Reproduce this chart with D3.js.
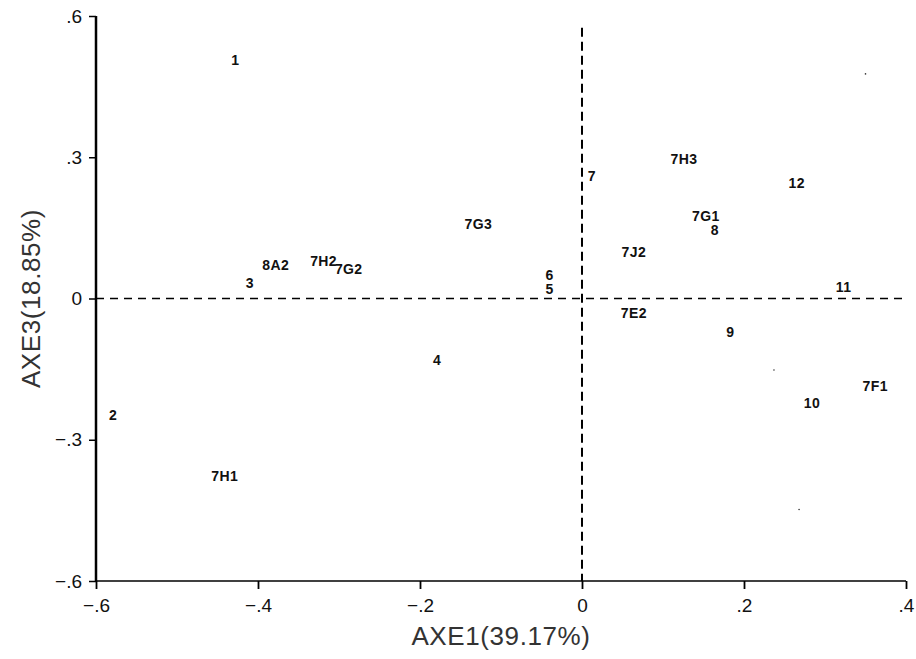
<!doctype html>
<html lang="en">
<head>
<meta charset="UTF-8"/>
<title>AXE1 x AXE3</title>
<script src="https://cdnjs.cloudflare.com/ajax/libs/d3/7.8.5/d3.min.js"></script>
<style>
  body { margin: 0; background: #fff; }
  text { font-family: "Liberation Sans", Arial, sans-serif; }
</style>
</head>
<body>
<svg id="chart" width="916" height="659"></svg>
<script>
// point labels and their coordinates on the two axes
var labels = ["1","2","3","8A2","7H2","7G2","7G3","6","5","7","7H3","12","7G1","8","7J2","11","7E2","9","4","7H1","10","7F1"];
var axe1 = [-0.428,-0.579,-0.410,-0.378,-0.319,-0.288,-0.128,-0.040,-0.040,0.012,0.126,0.265,0.153,0.164,0.064,0.323,0.064,0.183,-0.179,-0.441,0.284,0.362];
var axe3 = [0.507,-0.248,0.032,0.070,0.079,0.062,0.157,0.049,0.019,0.259,0.297,0.246,0.176,0.146,0.098,0.025,-0.030,-0.072,-0.130,-0.378,-0.223,-0.185];

var xTicks = [-0.6,-0.4,-0.2,0,0.2,0.4];
var xTickLabels = ["\u2212.6","\u2212.4","\u2212.2","0",".2",".4"];
var yTicks = [-0.6,-0.3,0,0.3,0.6];
var yTickLabels = ["\u2212.6","\u2212.3","0",".3",".6"];

// specks on the scanned page
var speckX = [0.350,0.237,0.268];
var speckY = [0.477,-0.152,-0.448];

var svg = d3.select("#chart");

var x = d3.scaleLinear().domain([-0.6,0.4]).range([96,906]);
var y = d3.scaleLinear().domain([-0.6,0.6]).range([581,16]);

// x axis
var xAxis = svg.append("g")
    .attr("transform","translate(0," + y(-0.6) + ")")
    .call(d3.axisBottom(x).tickValues(xTicks).tickSize(8).tickPadding(10)
          .tickFormat(function(d,i){ return xTickLabels[i]; }));
xAxis.select(".domain").attr("d","M" + x(-0.6) + ",0H" + x(0.4)).attr("stroke-width",1.6);
xAxis.selectAll(".tick line").attr("stroke-width",1.8);
xAxis.selectAll(".tick text").attr("font-size",19).attr("fill","#111");

// y axis
var yAxis = svg.append("g")
    .attr("transform","translate(" + x(-0.6) + ",0)")
    .call(d3.axisLeft(y).tickValues(yTicks).tickSize(7).tickPadding(7)
          .tickFormat(function(d,i){ return yTickLabels[i]; }));
yAxis.select(".domain").attr("d","M0," + y(0.6) + "V" + y(-0.6)).attr("stroke-width",2.5);
yAxis.selectAll(".tick line").attr("stroke-width",1.5);
yAxis.selectAll(".tick text").attr("font-size",19).attr("fill","#111");

// dashed origin lines
svg.append("line")
    .attr("x1",x(-0.6)).attr("x2",x(0.4))
    .attr("y1",y(0)).attr("y2",y(0))
    .attr("stroke","#000").attr("stroke-width",1.5)
    .attr("stroke-dasharray","8,6");
svg.append("line")
    .attr("x1",x(0)).attr("x2",x(0))
    .attr("y1",y(0.575)).attr("y2",y(-0.6))
    .attr("stroke","#000").attr("stroke-width",2)
    .attr("stroke-dasharray","9,5");

// axis titles
svg.append("text")
    .attr("x",(x(-0.6)+x(0.4))/2).attr("y",645)
    .attr("text-anchor","middle")
    .attr("font-size",26).attr("letter-spacing",0.6).attr("fill","#333")
    .text("AXE1(39.17%)");
svg.append("text")
    .attr("transform","translate(40," + y(0) + ") rotate(-90)")
    .attr("text-anchor","middle")
    .attr("font-size",26).attr("letter-spacing",0.6).attr("fill","#333")
    .text("AXE3(18.85%)");

// point labels
var pts = labels.map(function(l,i){ return {label:l, x:axe1[i], y:axe3[i]}; });
svg.selectAll(".lab")
    .data(pts)
    .enter().append("text")
    .attr("class","lab")
    .attr("x",function(d){ return x(d.x); })
    .attr("y",function(d){ return y(d.y); })
    .attr("dy","0.35em")
    .attr("text-anchor","middle")
    .attr("font-size",14)
    .attr("font-weight","bold")
    .attr("letter-spacing",0.4)
    .attr("fill","#111")
    .text(function(d){ return d.label; });

svg.selectAll(".speck")
    .data(speckX)
    .enter().append("circle")
    .attr("cx",function(d){ return x(d); })
    .attr("cy",function(d,i){ return y(speckY[i]); })
    .attr("r",0.8)
    .attr("fill","#333");
</script>
</body>
</html>
